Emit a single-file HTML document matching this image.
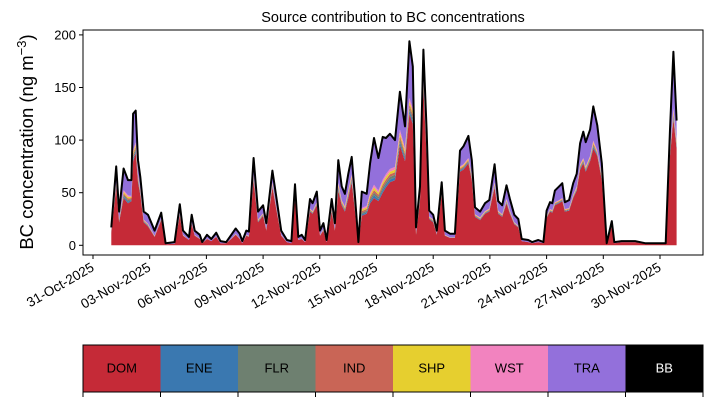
<!DOCTYPE html>
<html><head><meta charset="utf-8"><style>
html,body{margin:0;padding:0;background:#fff;}
svg{display:block;font-family:"Liberation Sans",sans-serif;}
</style></head><body>
<svg id="chart" width="713" height="402" viewBox="0 0 713 402"></svg>
<script>
const days=[0.97,1.23,1.38,1.62,1.85,2.03,2.12,2.26,2.38,2.5,2.68,2.91,3.26,3.61,3.84,4.32,4.59,4.76,5.08,5.22,5.38,5.65,5.78,6.03,6.26,6.52,6.74,7.05,7.32,7.55,7.76,7.9,8.11,8.25,8.5,8.73,9.0,9.17,9.49,9.7,9.96,10.26,10.5,10.69,10.86,11.04,11.22,11.48,11.62,11.84,12.01,12.19,12.36,12.63,12.8,12.98,13.16,13.33,13.51,13.69,13.86,14.04,14.22,14.48,14.66,14.87,15.1,15.33,15.5,15.71,15.98,16.24,16.51,16.74,16.92,17.09,17.3,17.48,17.65,17.79,18.0,18.19,18.45,18.62,18.89,19.15,19.42,19.6,19.86,20.04,20.21,20.48,20.74,20.97,21.25,21.44,21.65,21.88,22.06,22.29,22.5,22.68,23.03,23.24,23.56,23.83,24.0,24.18,24.3,24.44,24.66,24.83,24.97,25.19,25.41,25.59,25.77,25.94,26.07,26.3,26.47,26.68,26.92,27.18,27.45,27.58,27.97,28.68,29.21,29.74,30.3,30.53,30.71,30.88];
const dom=[12,55,22,45,40,42,80,88,60,48,22,18,8,24,1,1.5,28,9,5,20,9,6,2,6,4,8,2,2,6,10,6,2,9,8,62,22,28,14,55,34,9,3,2,45,5,6,3,32,30,38,9,14,3,32,14,52,38,32,45,60,32,2,28,30,40,45,42,50,55,60,62,95,80,125,115,10,42,150,85,25,22,10,48,9,7,7,70,72,78,62,27,24,30,32,55,30,27,40,30,20,17,4,3,2,3,2,26,32,31,38,40,42,32,33,45,52,72,78,70,80,92,85,62,1.5,18,2,3,3,1.5,1.5,1.5,85,120,92];
const minor=[0.5,1,0.5,1.5,1.5,1,2,2,1.5,1,0.5,0.5,0.2,0.3,0,0,0.5,0.2,0,0.3,0.2,0.1,0,0.1,0,0.1,0,0,0.1,0.2,0.1,0,0.2,0.2,1,0.5,0.5,0.3,1,0.5,0.2,0,0,0.8,0.1,0.1,0,0.6,0.5,0.6,0.2,0.3,0,0.8,0.3,1.5,1,1,1.5,1.5,1,0,1.5,1.5,2,2.5,2,2.5,2.5,2.5,2.5,3,2.5,3,3,0.5,1,2,1.5,0.5,0.5,0.2,0.8,0.2,0.1,0.1,1,1,1,1,0.5,0.5,0.5,0.6,1,0.6,0.5,0.8,0.6,0.4,0.3,0,0,0,0,0,0.4,0.5,0.5,0.6,0.6,0.6,0.5,0.5,0.6,0.8,1,1,1,1,1.5,1,1,0,0.3,0,0,0,0,0,0,1,2,1.5];
const ene=minor, flr=minor, ind=minor, shp=minor, wst=minor;
const tra=[2.5,15,7.5,20.5,14.5,15,35,30,13.5,12,7.5,8.5,5,5.5,1,1.5,8.5,4,3,7.5,4,3.5,1,3.5,2,3.5,2,1,3.5,5,4.5,2,4,4,16,7.5,7.5,5.5,11,9.5,4,2,2,9,2.5,3.5,2,9,7.5,10,4,5.5,2,8,5.5,21.5,13,12,15.5,16.5,9,1,15.5,11.5,28,44.5,31,40.5,34.5,33.5,25.5,36,20.5,54,40,4.5,9,26,17.5,5.5,4.5,3,8,4,3.5,3.5,15,17,21,14,6.5,5.5,7.5,8,17,9,8.5,13,11,7,6.5,2,2,1,2,1,5,6.5,6.5,11,13,14,6.5,7.5,11,12,20,25,23,25,32.5,24,11,0.5,3.5,1,1,1,0.5,0.5,0.5,20,54,19];
const bb=days.map(()=>0);
const seriesNames=["DOM","ENE","FLR","IND","SHP","WST","TRA","BB"];
const seriesColors=["#c52a37","#3a78b0","#6e8070","#c96556","#e6cf2f","#f283bf","#9370db","#000000"];
const yTicks=[0,50,100,150,200];
const xTickLabels=["31-Oct-2025","03-Nov-2025","06-Nov-2025","09-Nov-2025","12-Nov-2025","15-Nov-2025","18-Nov-2025","21-Nov-2025","24-Nov-2025","27-Nov-2025","30-Nov-2025"];
const xTickDays=[0,3,6,9,12,15,18,21,24,27,30];

const NS="http://www.w3.org/2000/svg";
const svg=document.getElementById("chart");
const L=83,R=703,T=30,B=255;
const xs=d=>93+d*18.9;
const ys=v=>245.3-v*1.052;
function mk(tag,attrs,parent){const e=document.createElementNS(NS,tag);for(const k in attrs)e.setAttribute(k,attrs[k]);(parent||svg).appendChild(e);return e;}

const title=mk("text",{x:393,y:22,"text-anchor":"middle","font-size":14.5,fill:"#000"});


title.textContent="Source contribution to BC concentrations";

const plot=mk("g",{});


const all=[dom,ene,flr,ind,shp,wst,tra,bb];
let base=days.map(()=>0);
all.forEach((arr,si)=>{
  const top=base.map((b,i)=>b+arr[i]);
  let d="M"+days.map((dd,i)=>xs(dd).toFixed(1)+","+ys(top[i]).toFixed(1)).join("L");
  for(let i=days.length-1;i>=0;i--)d+="L"+xs(days[i]).toFixed(1)+","+ys(base[i]).toFixed(1);
  d+="Z";
  const p=mk("path",{d:d,fill:seriesColors[si],stroke:"none"},plot);
  
  
  base=top;
});
const tl=mk("path",{d:"M"+days.map((dd,i)=>xs(dd).toFixed(1)+","+ys(base[i]).toFixed(1)).join("L"),fill:"none",stroke:"#000","stroke-width":2,"stroke-linejoin":"round"},plot);



const frame=mk("rect",{x:L,y:T,width:R-L,height:B-T,fill:"none",stroke:"#000","stroke-width":1});



yTicks.forEach(v=>{
  const y=ys(v);
  const t=mk("line",{x1:L-4,x2:L,y1:y,y2:y,stroke:"#000"});
  
  
  const lb=mk("text",{x:L-7,y:y+4.5,"text-anchor":"end","font-size":13});
  
  
  lb.textContent=v;
});
xTickDays.forEach((d,i)=>{
  const x=xs(d);
  const t=mk("line",{x1:x,x2:x,y1:B,y2:B+4,stroke:"#000"});
  
  
  const lb=mk("text",{x:x+2,y:B+15,"text-anchor":"end","font-size":13.5,transform:"rotate(-30 "+(x+2)+" "+(B+15)+")"});
  
  
  lb.textContent=xTickLabels[i];
});
const yl=mk("text",{x:33,y:142,"text-anchor":"middle","font-size":18.5,transform:"rotate(-90 33 142)"});


yl.innerHTML='BC concentration (ng m<tspan dy="-7" font-size="13">−3</tspan><tspan dy="7">)</tspan>';

const lg=mk("g",{});


const w=(R-L)/seriesNames.length;
seriesNames.forEach((n,i)=>{
  const r=mk("rect",{x:L+i*w,y:345,width:w+0.5,height:47,fill:seriesColors[i]},lg);
  
  
  const t=mk("text",{x:L+i*w+w/2,y:372.5,"text-anchor":"middle","font-size":13,fill:n==="BB"?"#fff":"#000"},lg);
  
  
  t.textContent=n;
});
mk("rect",{x:L,y:345,width:R-L,height:47,fill:"none",stroke:"#000"},lg);
for(let i=0;i<=seriesNames.length;i++){
  const x=L+i*w;
  const tk=mk("line",{x1:x,x2:x,y1:392,y2:397,stroke:"#000"},lg);
  
  
}
</script>
</body></html>
